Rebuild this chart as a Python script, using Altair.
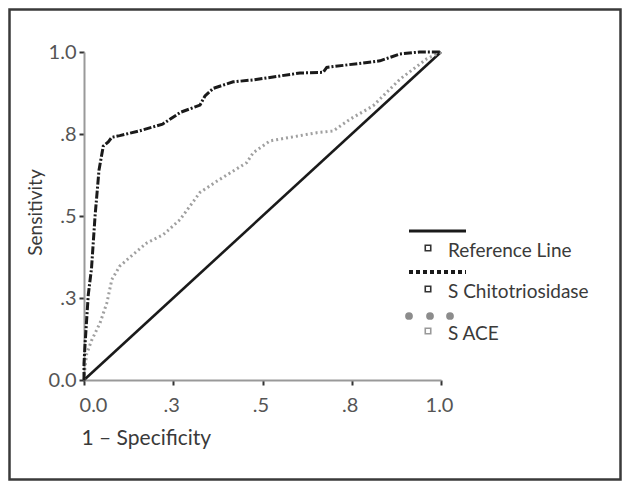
import altair as alt
import pandas as pd

# ---- data ----
ref_x = [0.0, 1.0]
ref_y = [0.0, 1.0]

chito_x = [0.0, 0.0, 0.003, 0.012, 0.021, 0.031, 0.042, 0.054, 0.068, 0.078, 0.10,
           0.157, 0.22, 0.27, 0.325, 0.339, 0.362, 0.418, 0.474, 0.605, 0.67, 0.68,
           0.829, 0.885, 0.94, 1.0]
chito_y = [0.0, 0.05, 0.11, 0.26, 0.34, 0.50, 0.64, 0.713, 0.726, 0.74, 0.745,
           0.76, 0.78, 0.816, 0.838, 0.866, 0.889, 0.909, 0.915, 0.936, 0.938, 0.953,
           0.973, 0.994, 1.0, 1.0]

ace_x = [0.0, 0.003, 0.0076, 0.021, 0.045, 0.064, 0.078, 0.10, 0.137, 0.176, 0.222,
         0.269, 0.325, 0.372, 0.456, 0.474, 0.521, 0.652, 0.698, 0.745, 0.81, 0.885,
         0.96, 1.0]
ace_y = [0.0, 0.04, 0.08, 0.12, 0.174, 0.235, 0.306, 0.347, 0.382, 0.418, 0.443,
         0.489, 0.572, 0.606, 0.663, 0.693, 0.729, 0.754, 0.759, 0.795, 0.836, 0.917,
         0.979, 1.0]

tick_values = [0, 0.25, 0.5, 0.75, 1.0]
tick_labels = ["0.0", ".3", ".5", ".8", "1.0"]
legend_labels = ["Reference Line", "S Chitotriosidase", "S ACE"]

W, H = 357, 328
PL, PT = 76, 44
PR, PB = 614 - PL - W, 473 - PT - H

def df(xs, ys):
    return pd.DataFrame({"x": xs, "y": ys, "i": range(len(xs))})

label_expr = "[" + ",".join("'%s'" % s for s in tick_labels) + "][indexof([" + \
    ",".join(str(v) for v in tick_values) + "], datum.value)]"

xenc = alt.X("x:Q", scale=alt.Scale(domain=[0, 1], nice=False),
             axis=alt.Axis(values=tick_values, labelExpr=label_expr, title="1 – Specificity",
                           labelFlush=False, labelAlign="center",
                           labelOffset={"condition": {"test": "datum.value == 0", "value": 9}, "value": -2},
                           titleX=-3, titleY=64,
                           titleAlign="left", titleFontSize=21,
                           titleBaseline="alphabetic", labelPadding=10))
yenc = alt.Y("y:Q", scale=alt.Scale(domain=[0, 1], nice=False),
             axis=alt.Axis(values=tick_values, labelExpr=label_expr, title="Sensitivity",
                           titleX=-49, titleY=H / 2 - 4, titleAngle=-90, titleAlign="center",
                           titleBaseline="middle", labelPadding=3))

ref = alt.Chart(df(ref_x, ref_y)).mark_line(color="#1a1a1a", strokeWidth=2.6).encode(
    x=xenc, y=yenc, order="i:O")
chito = alt.Chart(df(chito_x, chito_y)).mark_line(
    color="#1a1a1a", strokeWidth=3, strokeDash=[8, 2, 2, 2]).encode(x="x:Q", y="y:Q", order="i:O")
ace = alt.Chart(df(ace_x, ace_y)).mark_line(
    color="#a0a0a0", strokeWidth=3, strokeDash=[2, 3]).encode(x="x:Q", y="y:Q", order="i:O")

one = pd.DataFrame({"a": [0]})
base = alt.Chart(one)

# custom legend
lx0, lx1 = 325, 382
leg = [
    base.mark_rule(color="#1a1a1a", strokeWidth=3).encode(
        x=alt.value(lx0), x2=alt.value(lx1), y=alt.value(179)),
    base.mark_rule(color="#1a1a1a", strokeWidth=4, strokeDash=[4, 3]).encode(
        x=alt.value(lx0), x2=alt.value(lx1), y=alt.value(220)),
]
for cx in [325, 346, 366]:
    leg.append(base.mark_point(filled=True, shape="circle", size=60, color="#8c8c8c", opacity=1).encode(
        x=alt.value(cx), y=alt.value(264)))
rows_y = [196, 237, 279]
sq_colors = ["#333333", "#333333", "#999999"]
for lab, yy, c in zip(legend_labels, rows_y, sq_colors):
    leg.append(base.mark_point(shape="square", size=30, color=c, strokeWidth=1.6, filled=False, opacity=1).encode(
        x=alt.value(344), y=alt.value(yy)))
    leg.append(base.mark_text(text=lab, align="left", baseline="middle", font="Lato",
                              fontSize=19, color="#3a3a3a").encode(
        x=alt.value(364), y=alt.value(yy + 3)))

border = base.mark_rect(fill=None, stroke="#3a3a3a", strokeWidth=2.5).encode(
    x=alt.value(-PL + 1.5), x2=alt.value(W + PR - 1.5),
    y=alt.value(-PT + 1.5), y2=alt.value(H + PB - 1.5))

chart = alt.layer(border, ref, ace, chito, *leg).properties(
    width=W, height=H,
    autosize=alt.AutoSizeParams(type="none"),
    padding={"left": PL, "top": PT, "right": PR, "bottom": PB},
).configure_view(stroke=None).configure_axis(
    grid=False, domainColor="#999999", domainWidth=2, tickColor="#333333", tickWidth=2,
    tickSize=5, labelFont="Lato", labelFontSize=20, labelColor="#555555",
    titleFont="Lato", titleFontSize=19, titleFontWeight="normal", titleColor="#3a3a3a",
)

chart.save("out.html", embed_options={"renderer": "svg", "actions": False})
